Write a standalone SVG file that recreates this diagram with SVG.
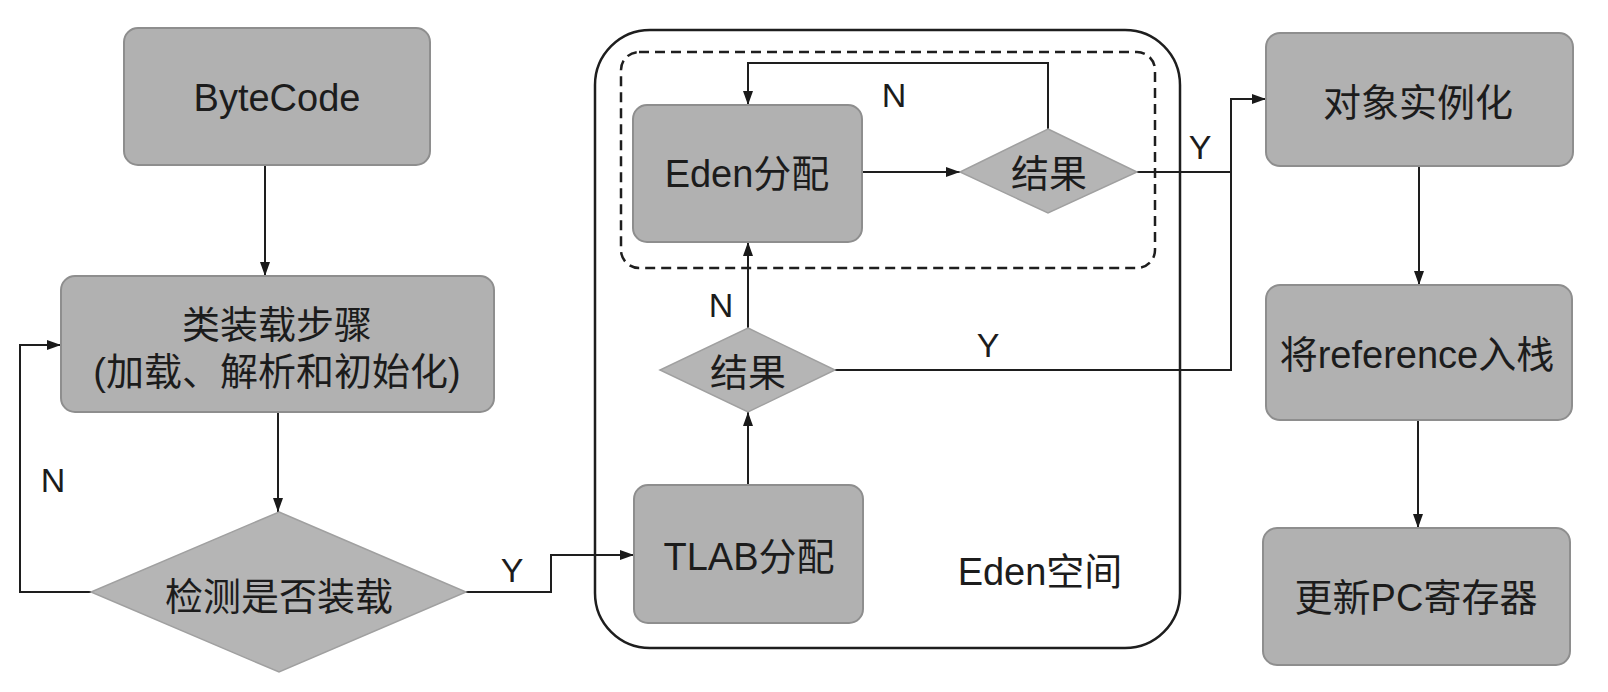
<svg xmlns="http://www.w3.org/2000/svg" width="1608" height="692" viewBox="0 0 1608 692">
<defs>
<marker id="arr" viewBox="0 0 14 10" refX="14" refY="5" markerWidth="14" markerHeight="10" markerUnits="userSpaceOnUse" orient="auto">
<path d="M0,0 L14,5 L0,10 z" fill="#1a1a1a"/>
</marker>
</defs>
<style>
.box{fill:#b1b1b1;stroke:#8e8e8e;stroke-width:2}
.dia{fill:#b5b5b5;stroke:#a0a0a0;stroke-width:1.5}
.t{font-family:"Liberation Sans","Noto Sans CJK SC",sans-serif;font-size:38px;fill:#1c1c1c;text-anchor:middle;dominant-baseline:central}
.lbl{font-family:"Liberation Sans",sans-serif;font-size:34px;fill:#1c1c1c;text-anchor:middle;dominant-baseline:central}
.c{fill:none;stroke:#1e1e1e;stroke-width:2}
</style>
<rect width="1608" height="692" fill="#ffffff"/>
<g id="eden-space">
<rect x="595" y="30" width="585" height="618" rx="55" fill="none" stroke="#1e1e1e" stroke-width="2.5"/>
<rect x="621" y="52" width="534" height="216" rx="18" fill="none" stroke="#1e1e1e" stroke-width="2.5" stroke-dasharray="10 6"/>
<text class="t" x="1040" y="572">Eden空间</text>
</g>
<g id="connectors">
<path class="c" d="M265,165 L265,276" marker-end="url(#arr)"/>
<path class="c" d="M278,412 L278,512" marker-end="url(#arr)"/>
<path class="c" d="M91,592 L20,592 L20,345 L61,345" marker-end="url(#arr)"/>
<path class="c" d="M466,592 L551,592 L551,555 L634,555" marker-end="url(#arr)"/>
<path class="c" d="M748,485 L748,412" marker-end="url(#arr)"/>
<path class="c" d="M748,328 L748,242" marker-end="url(#arr)"/>
<path class="c" d="M862,172 L960,172" marker-end="url(#arr)"/>
<path class="c" d="M1048,129 L1048,63 L748,63 L748,105" marker-end="url(#arr)"/>
<path class="c" d="M1137,172 L1231,172"/>
<path class="c" d="M835,370 L1231,370 L1231,99 L1266,99" marker-end="url(#arr)"/>
<path class="c" d="M1419,166 L1419,285" marker-end="url(#arr)"/>
<path class="c" d="M1418,420 L1418,528" marker-end="url(#arr)"/>
<text class="lbl" x="894" y="95">N</text>
<text class="lbl" x="721" y="305">N</text>
<text class="lbl" x="53" y="480">N</text>
<text class="lbl" x="1200" y="147">Y</text>
<text class="lbl" x="988" y="345">Y</text>
<text class="lbl" x="512" y="570">Y</text>
</g>
<g id="bytecode">
<rect class="box" x="124" y="28" width="306" height="137" rx="14"/>
<text class="t" x="277" y="98">ByteCode</text>
</g>
<g id="class-loading">
<rect class="box" x="61" y="276" width="433" height="136" rx="14"/>
<text class="t" x="277" y="325">类装载步骤</text>
<text class="t" x="277" y="372">(加载、解析和初始化)</text>
</g>
<g id="check-loaded">
<polygon class="dia" points="279,512 466,592 279,672 91,592"/>
<text class="t" x="279" y="597">检测是否装载</text>
</g>
<g id="tlab">
<rect class="box" x="634" y="485" width="229" height="138" rx="14"/>
<text class="t" x="749" y="557">TLAB分配</text>
</g>
<g id="result-tlab">
<polygon class="dia" points="748,328 835,370 748,412 660,370"/>
<text class="t" x="748" y="373">结果</text>
</g>
<g id="eden-alloc">
<rect class="box" x="633" y="105" width="229" height="137" rx="14"/>
<text class="t" x="747" y="174">Eden分配</text>
</g>
<g id="result-eden">
<polygon class="dia" points="1048,129 1137,172 1048,213 960,172"/>
<text class="t" x="1049" y="174">结果</text>
</g>
<g id="instantiate">
<rect class="box" x="1266" y="33" width="307" height="133" rx="14"/>
<text class="t" x="1418" y="103">对象实例化</text>
</g>
<g id="push-ref">
<rect class="box" x="1266" y="285" width="306" height="135" rx="14"/>
<text class="t" x="1417" y="355">将reference入栈</text>
</g>
<g id="update-pc">
<rect class="box" x="1263" y="528" width="307" height="137" rx="14"/>
<text class="t" x="1416" y="598">更新PC寄存器</text>
</g>
</svg>
